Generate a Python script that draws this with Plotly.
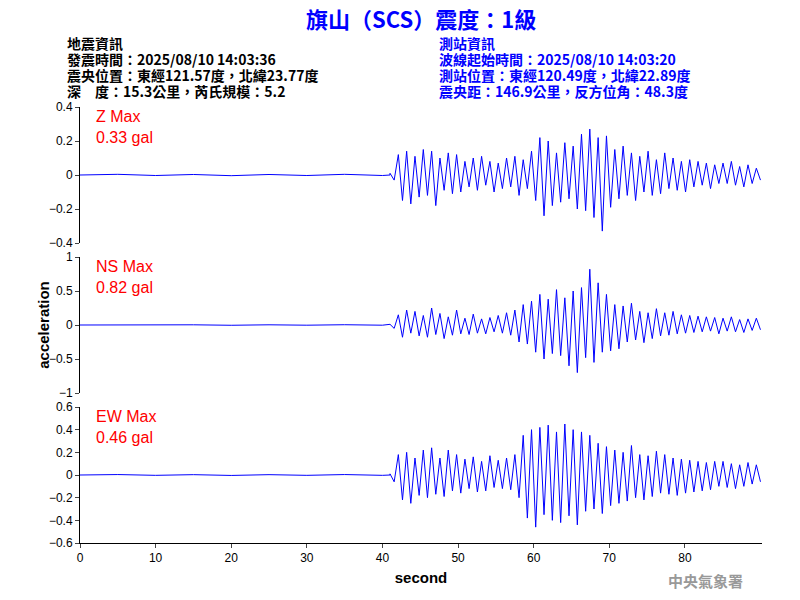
import numpy as np
import plotly.graph_objects as go
from plotly.subplots import make_subplots

# quiet pre-event part (seconds, gal)
quiet_t = [0, 5, 10, 15, 20, 25, 30, 35, 40, 41]
quiet_v = [0, 0.004, -0.003, 0.003, -0.004, 0.003, -0.003, 0.004, -0.003, 0]

z_vals = [0.01, -0.03, 0.12, -0.15, 0.14, -0.17, 0.11, -0.13, 0.15,
          -0.12, 0.14, -0.18, 0.10, -0.09, 0.13, -0.11, 0.12, -0.10,
          0.08, -0.07, 0.10, -0.09, 0.11, -0.06, 0.08, -0.10, 0.07,
          -0.08, 0.10, -0.07, 0.11, -0.12, 0.09, -0.08, 0.14, -0.15,
          0.22, -0.24, 0.20, -0.18, 0.13, -0.16, 0.19, -0.14, 0.17,
          -0.20, 0.24, -0.21, 0.27, -0.25, 0.22, -0.33, 0.23, -0.19,
          0.15, -0.14, 0.17, -0.12, 0.13, -0.15, 0.11, -0.10, 0.14,
          -0.12, 0.09, -0.11, 0.13, -0.08, 0.10, -0.09, 0.08, -0.10,
          0.09, -0.07, 0.08, -0.06, 0.07, -0.08, 0.06, -0.05, 0.07,
          -0.05, 0.08, -0.06, 0.05, -0.07, 0.06, -0.05, 0.04, -0.03]
ns_vals = [0.01, -0.05, 0.15, -0.18, 0.22, -0.12, 0.20, -0.16, 0.14,
           -0.18, 0.25, -0.14, 0.17, -0.20, 0.12, -0.15, 0.22, -0.13,
           0.10, -0.14, 0.16, -0.12, 0.09, -0.13, 0.11, -0.10, 0.14,
           -0.12, 0.18, -0.15, 0.22, -0.25, 0.30, -0.28, 0.35, -0.40,
           0.45, -0.50, 0.38, -0.42, 0.52, -0.45, 0.40, -0.60, 0.50,
           -0.70, 0.55, -0.48, 0.82, -0.55, 0.62, -0.40, 0.45, -0.38,
           0.30, -0.35, 0.28, -0.25, 0.32, -0.22, 0.20, -0.26, 0.18,
           -0.20, 0.24, -0.16, 0.18, -0.15, 0.20, -0.13, 0.15, -0.12,
           0.14, -0.11, 0.13, -0.10, 0.12, -0.09, 0.11, -0.13, 0.10,
           -0.09, 0.12, -0.10, 0.08, -0.11, 0.09, -0.08, 0.10, -0.07]
ew_vals = [0.01, -0.06, 0.18, -0.22, 0.20, -0.25, 0.15, -0.18, 0.22,
           -0.20, 0.24, -0.17, 0.15, -0.19, 0.22, -0.14, 0.18, -0.16,
           0.14, -0.12, 0.16, -0.15, 0.12, -0.14, 0.17, -0.11, 0.13,
           -0.12, 0.15, -0.13, 0.18, -0.20, 0.35, -0.38, 0.40, -0.46,
           0.42, -0.35, 0.44, -0.40, 0.38, -0.42, 0.45, -0.36, 0.40,
           -0.44, 0.38, -0.32, 0.35, -0.30, 0.28, -0.34, 0.25, -0.27,
           0.22, -0.25, 0.20, -0.23, 0.26, -0.20, 0.18, -0.22, 0.17,
           -0.19, 0.21, -0.16, 0.18, -0.17, 0.15, -0.18, 0.14, -0.16,
           0.13, -0.15, 0.12, -0.14, 0.11, -0.13, 0.12, -0.10, 0.12,
           -0.11, 0.10, -0.12, 0.09, -0.10, 0.11, -0.08, 0.09, -0.06]

names = ["Z Max", "NS Max", "EW Max"]
max_labels = ["0.33 gal", "0.82 gal", "0.46 gal"]
y_ranges = [[-0.4, 0.4], [-1, 1], [-0.6, 0.6]]
y_dticks = [0.2, 0.5, 0.2]
x_ticks = [0, 10, 20, 30, 40, 50, 60, 70, 80]

CJK = "Noto Sans CJK TC"
tick_font = dict(family="Arial", size=12, color="black")
fig = make_subplots(rows=3, cols=1, vertical_spacing=14 / 436)

for i, vals in enumerate([z_vals, ns_vals, ew_vals]):
    t = list(quiet_t) + list(41 + np.arange(len(vals)) * 49 / (len(vals) - 1))
    v = list(quiet_v) + list(vals)
    fig.add_trace(go.Scatter(x=t, y=v, mode="lines", line=dict(color="#0000ff", width=1),
                             showlegend=False), row=i + 1, col=1)
    fig.update_yaxes(range=y_ranges[i], dtick=y_dticks[i], showline=True, linecolor="black",
                     ticks="outside", ticklen=4, showgrid=False, zeroline=False,
                     tickfont=tick_font, row=i + 1, col=1)
    fig.update_xaxes(range=[0, 90.2], showgrid=False, zeroline=False, row=i + 1, col=1,
                     showline=(i == 2), linecolor="black", ticks="outside" if i == 2 else "",
                     showticklabels=(i == 2), tickvals=x_ticks, ticklen=4, tickfont=tick_font)
    fig.add_annotation(xref="x%s domain" % ("" if i == 0 else i + 1),
                       yref="y%s domain" % ("" if i == 0 else i + 1),
                       x=0.02, y=1.01, xanchor="left", yanchor="top", align="left", showarrow=False,
                       text=names[i] + "<br>" + max_labels[i],
                       font=dict(family="Arial", size=16, color="red"))

fig.update_xaxes(title_text="<b>second</b>", title_font=dict(family="Arial", size=15, color="black"),
                 title_standoff=8, row=3, col=1)

fig.add_annotation(xref="paper", yref="paper", x=-0.07, y=0.5, textangle=-90, showarrow=False,
                   text="<b>acceleration</b>", font=dict(family="Arial", size=15, color="black"))

fig.add_annotation(xref="paper", yref="paper", x=0.5, y=1.204, showarrow=False, yanchor="middle",
                   text="<b>旗山（SCS）震度：1級</b>",
                   font=dict(family=CJK, size=22, color="#0000ff"))

left_info = ["地震資訊", "發震時間：2025/08/10 14:03:36", "震央位置：東經121.57度，北緯23.77度",
             "深　度：15.3公里，芮氏規模：5.2"]
right_info = ["測站資訊", "波線起始時間：2025/08/10 14:03:20", "測站位置：東經120.49度，北緯22.89度",
              "震央距：146.9公里，反方位角：48.3度"]
line_y = [1.147, 1.110, 1.073, 1.037]
for k in range(4):
    fig.add_annotation(xref="paper", yref="paper", x=-0.022, y=line_y[k], xanchor="left",
                       yanchor="middle", showarrow=False, text="<b>" + left_info[k] + "</b>",
                       font=dict(family=CJK, size=14, color="black"))
    fig.add_annotation(xref="paper", yref="paper", x=0.523, y=line_y[k], xanchor="left",
                       yanchor="middle", showarrow=False, text="<b>" + right_info[k] + "</b>",
                       font=dict(family=CJK, size=14, color="#0000ff"))
fig.add_annotation(xref="paper", yref="paper", x=0.975, y=-0.085, xanchor="right", yanchor="middle",
                   showarrow=False, text="<b>中央氣象署</b>",
                   font=dict(family=CJK, size=15, color="#999999"))

fig.update_layout(width=800, height=600, margin=dict(l=72, r=46, t=99, b=65),
                  plot_bgcolor="white", paper_bgcolor="white")

fig.write_html("out.html")
